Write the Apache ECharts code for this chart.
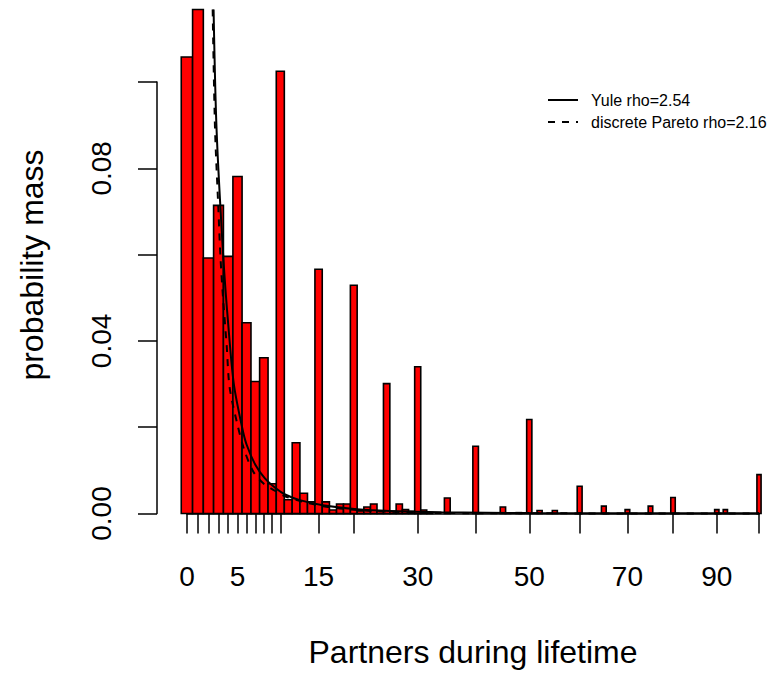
<!DOCTYPE html>
<html>
<head>
<meta charset="utf-8">
<script src="https://cdn.jsdelivr.net/npm/echarts@6/dist/echarts.min.js"></script>
<style>
  html, body { margin: 0; padding: 0; background: #fff; }
  #chart { width: 768px; height: 673px; }
</style>
</head>
<body>
<div id="chart"></div>
<script>
// observed partner counts and their share
var partners = [0, 1, 2, 3, 4, 5, 6, 7, 8, 9, 10, 11, 12, 13, 14, 15, 16, 17, 18, 19, 20,
    21, 22, 23, 24, 25, 26, 27, 28, 29, 30, 31, 32, 35, 40, 45, 48, 50, 52, 55, 60, 65,
    70, 75, 80, 90, 92, 100];
var mass = [0.1058, 0.1168, 0.0592, 0.0714, 0.0596, 0.0781, 0.0442, 0.0306, 0.0361, 0.0069,
    0.1025, 0.0032, 0.0164, 0.0047, 0.0027, 0.0566, 0.0027, 0.0008, 0.0022, 0.0022, 0.0529,
    0.0006, 0.0015, 0.0022, 0.0006, 0.0301, 0.0005, 0.0022, 0.0009, 0.0005, 0.0340, 0.0008,
    0.0002, 0.0036, 0.0156, 0.0015, 0.0002, 0.0218, 0.0007, 0.0007, 0.0063, 0.0017, 0.0009,
    0.0017, 0.0037, 0.0009, 0.0009, 0.0090];

// fitted curves
var yuleX = [2.5, 2.8, 3.5, 4.0, 4.6, 5.5, 6.0, 7.0, 8.1, 9.4, 10.6, 12.5, 15.6, 20.5, 25.5, 34, 50, 70, 100];
var yuleY = [0.1168, 0.0889, 0.0589, 0.0439, 0.0300, 0.0200, 0.0160, 0.0113, 0.0082, 0.0059,
    0.0044, 0.0031, 0.0019, 0.0010, 0.0006, 0.0003, 0.0001, 0.00005, 0.00003];
var paretoX = [2.41, 2.64, 2.97, 3.2, 3.49, 3.84, 4.14, 4.91, 5.75, 6.77, 7.93, 9.14, 10.6, 12.5, 15.6, 20.5, 25.5, 34, 100];
var paretoY = [0.1168, 0.0894, 0.0712, 0.0592, 0.0490, 0.0389, 0.0294, 0.0213, 0.0147, 0.0097,
    0.0070, 0.0055, 0.0040, 0.0029, 0.0017, 0.0008, 0.0004, 0.0001, 0.0];

// axis ticks
var xTicks = [0, 1, 2, 3, 4, 5, 6, 7, 8, 9, 10, 15, 20, 30, 40, 50, 60, 70, 80, 90, 100];
var xLabels = [0, 5, 15, 30, 50, 70, 90];
var yLabels = ['0.00', '', '0.04', '', '0.08', ''];

// the x axis is stretched: position ~ (x + 6)^0.65
var POW = 0.65, SHIFT = 6;
function tf(x) { return Math.pow(x + SHIFT, POW); }
function itf(t) { return Math.pow(t, 1 / POW) - SHIFT; }

var FONT = 'Liberation Sans';
var chart = echarts.init(document.getElementById('chart'), null, { renderer: 'svg' });

var option = {
    backgroundColor: '#fff',
    animation: false,
    textStyle: { fontFamily: FONT, color: '#000' },
    grid: { left: 187, right: 9, top: 82, bottom: 157.5 },
    legend: {
        orient: 'vertical',
        left: 547,
        top: 92,
        padding: 0,
        itemWidth: 30,
        itemHeight: 14,
        itemGap: 6,
        itemStyle: { opacity: 0 },
        textStyle: { fontSize: 16, color: '#000', fontFamily: FONT, padding: [0, 0, 0, 8] },
        data: ['Yule rho=2.54', 'discrete Pareto rho=2.16']
    },
    xAxis: {
        type: 'value',
        min: tf(0),
        max: tf(100),
        offset: 4.5,
        name: 'Partners during lifetime',
        nameLocation: 'middle',
        nameGap: 118,
        nameTextStyle: { fontSize: 32, color: '#000', fontFamily: FONT },
        axisLine: { lineStyle: { color: '#000', width: 1.5 } },
        axisTick: { length: 20, lineStyle: { color: '#000', width: 1.5 }, customValues: xTicks.map(tf) },
        axisLabel: {
            customValues: xLabels.map(tf),
            fontSize: 28,
            color: '#000',
            margin: 44,
            formatter: function (v) { return String(Math.round(itf(v))); }
        },
        splitLine: { show: false }
    },
    yAxis: {
        type: 'value',
        min: 0,
        max: 0.1,
        interval: 0.02,
        offset: 30,
        axisLine: { show: true, lineStyle: { color: '#000', width: 1.5 } },
        axisTick: { show: true, length: 19, lineStyle: { color: '#000', width: 1.5 } },
        axisLabel: {
            rotate: 90,
            fontSize: 28,
            color: '#000',
            margin: 42,
            formatter: function (v) { return yLabels[Math.round(v / 0.02)]; }
        },
        splitLine: { show: false }
    },
    graphic: [{
        type: 'text',
        x: 32,
        y: 265,
        rotation: Math.PI / 2,
        style: {
            text: 'probability mass',
            fill: '#000',
            font: '32px "Liberation Sans"',
            align: 'center',
            verticalAlign: 'middle',
            textAlign: 'center',
            textVerticalAlign: 'middle'
        }
    }],
    series: [
        {
            name: 'mass',
            type: 'custom',
            clip: false,
            renderItem: function (params, api) {
                var x = api.value(0);
                var v = api.value(1);
                var p0 = api.coord([tf(x - 0.5), 0]);
                var p1 = api.coord([tf(x + 0.5), v]);
                return {
                    type: 'rect',
                    shape: { x: p0[0], y: p1[1], width: p1[0] - p0[0], height: p0[1] - p1[1] },
                    style: { fill: '#ff0000', stroke: '#000', lineWidth: 1.6 }
                };
            },
            encode: { x: 0, y: 1 },
            data: partners.map(function (p, i) { return [p, mass[i]]; })
        },
        {
            name: 'Yule rho=2.54',
            type: 'line',
            clip: false,
            symbol: 'none',
            smooth: 0.3,
            lineStyle: { color: '#000', width: 2 },
            itemStyle: { color: '#000' },
            data: yuleX.map(function (x, i) { return [tf(x), yuleY[i]]; })
        },
        {
            name: 'discrete Pareto rho=2.16',
            type: 'line',
            clip: false,
            symbol: 'none',
            smooth: 0.3,
            lineStyle: { color: '#000', width: 2, type: [7, 7] },
            itemStyle: { color: '#000' },
            data: paretoX.map(function (x, i) { return [tf(x), paretoY[i]]; })
        }
    ]
};

chart.setOption(option);
</script>
</body>
</html>
